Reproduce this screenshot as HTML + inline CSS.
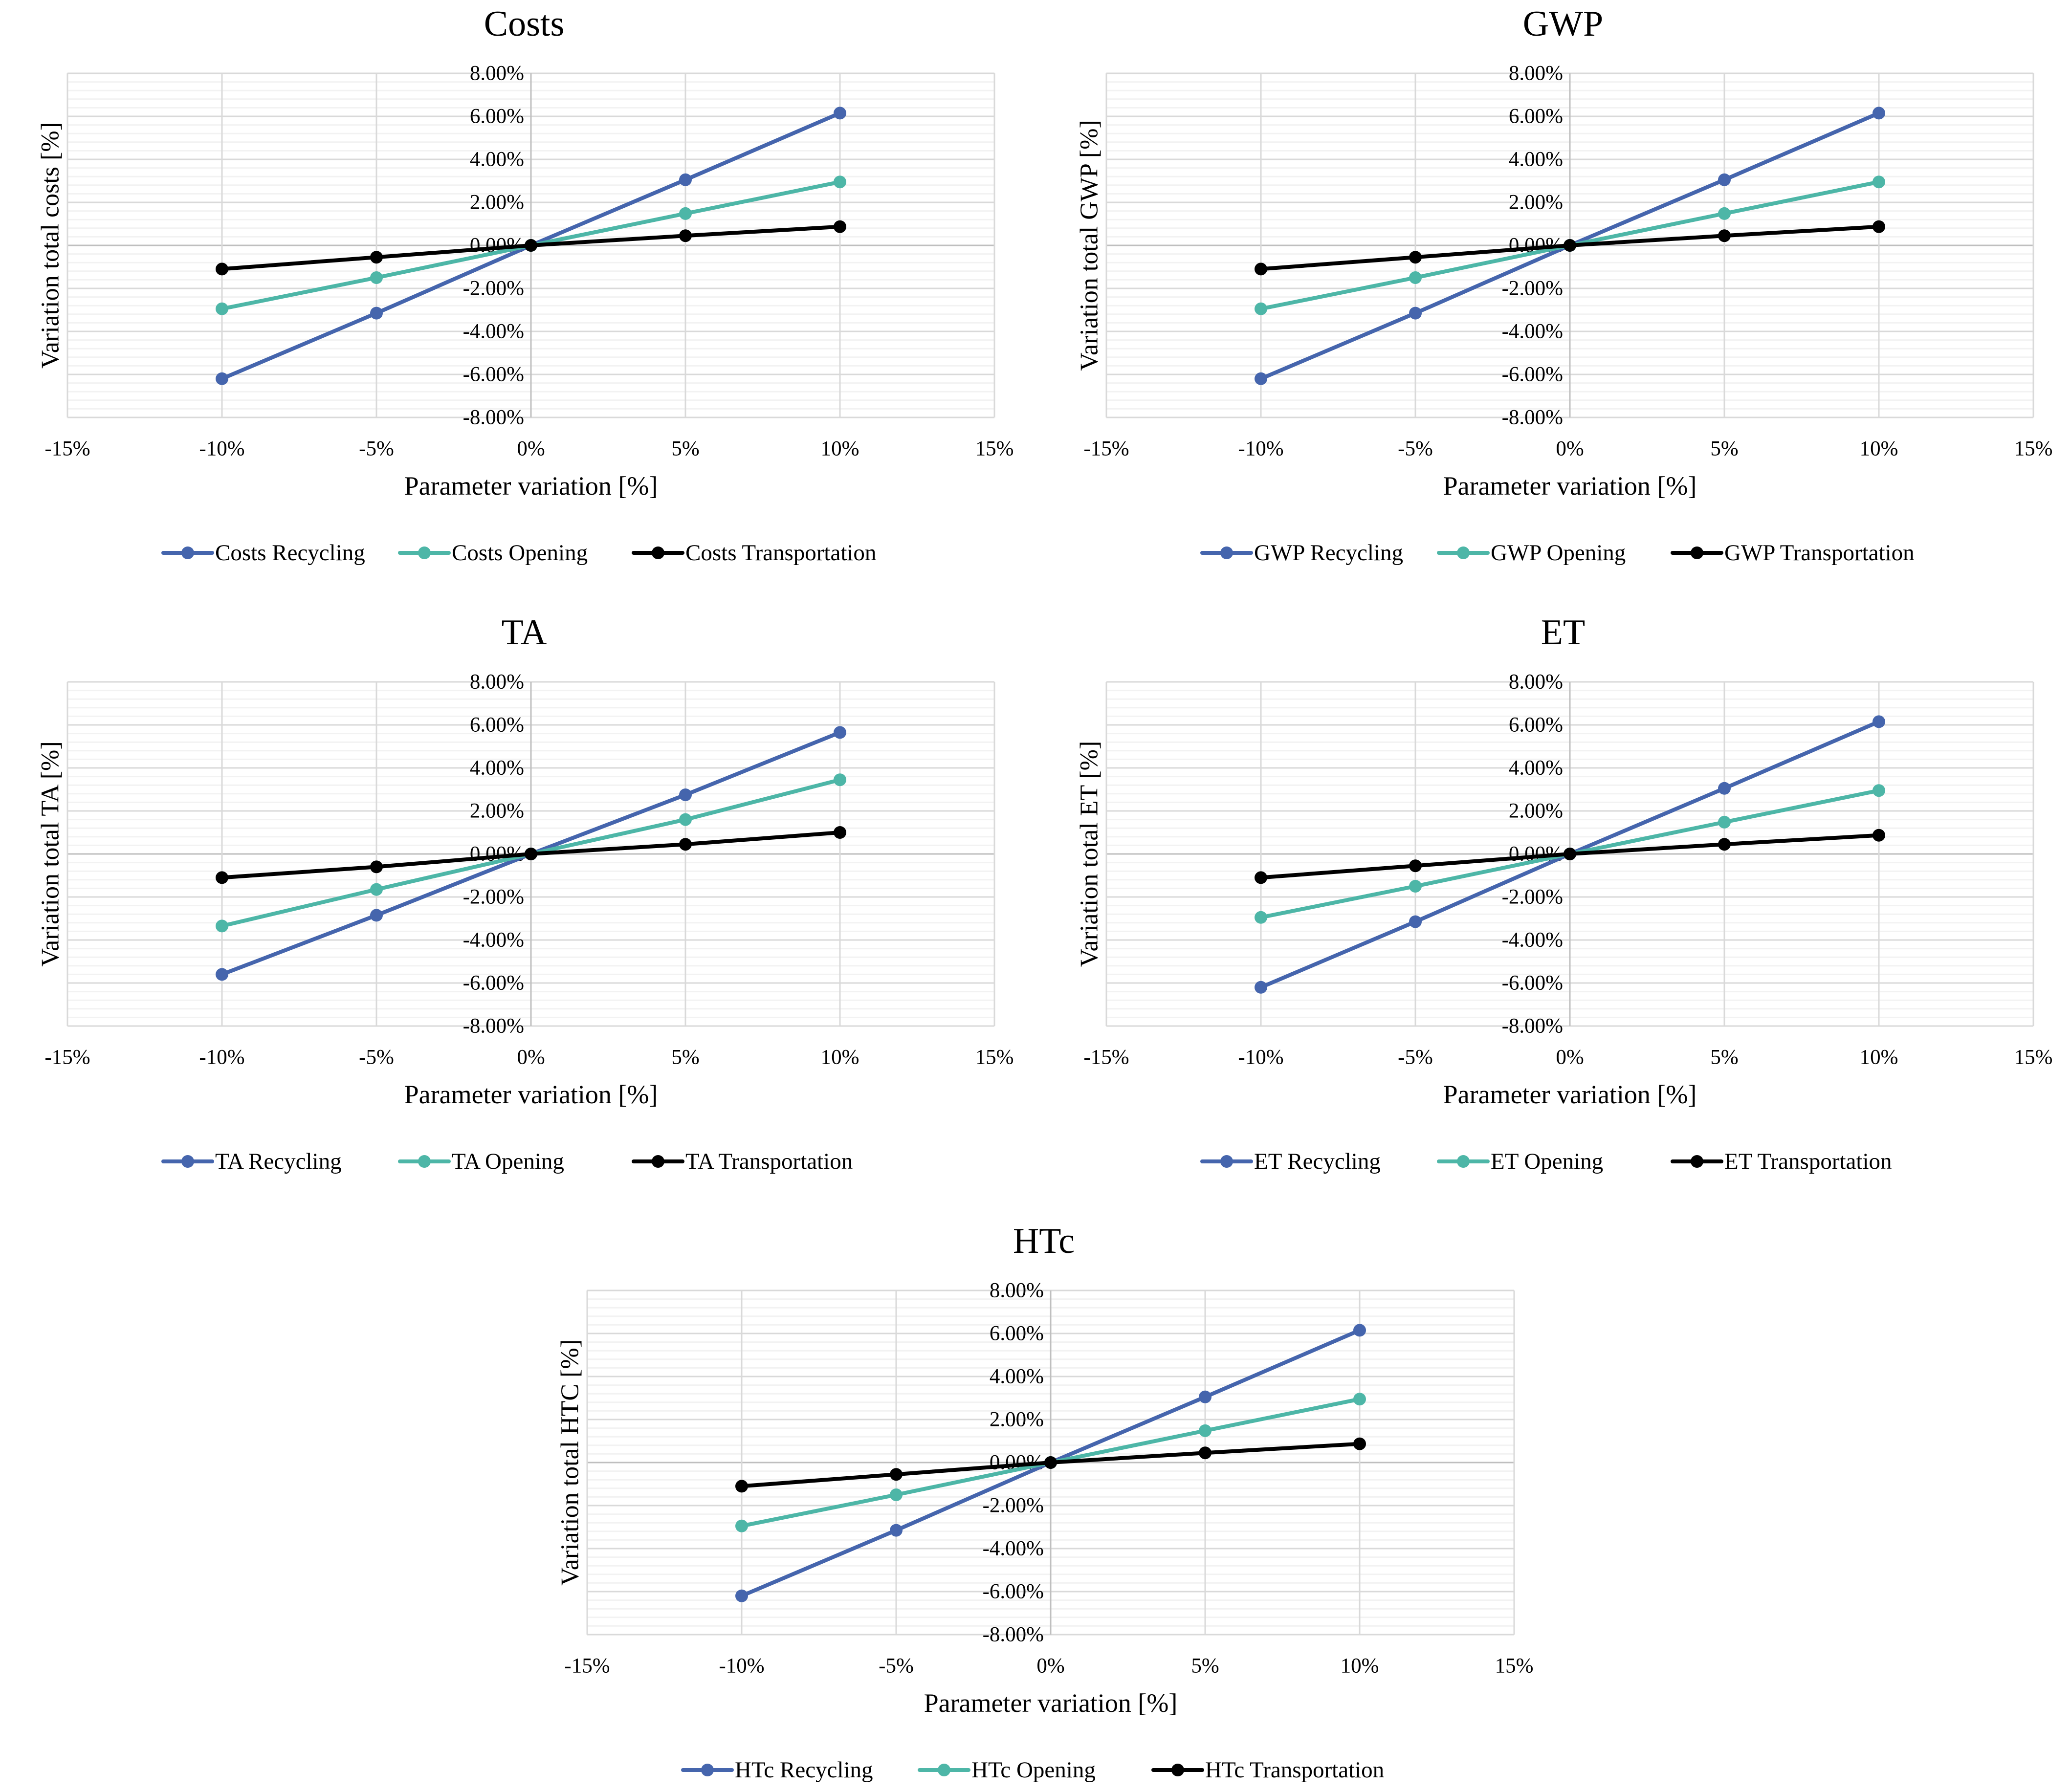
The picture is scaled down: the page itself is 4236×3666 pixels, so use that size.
<!DOCTYPE html>
<html><head><meta charset="utf-8"><style>
html,body{margin:0;padding:0;background:#fff;}
svg{display:block;font-family:"Liberation Serif",serif;}
</style></head><body>
<svg id="fig" width="4236" height="3666" viewBox="0 0 4236 3666" xmlns="http://www.w3.org/2000/svg"></svg>
<script>
const xCategories = [-10, -5, 0, 5, 10];
const xTickLabels = ["-15%","-10%","-5%","0%","5%","10%","15%"];
const xTickValues = [-15,-10,-5,0,5,10,15];
const yTickValues = [8,6,4,2,0,-2,-4,-6,-8];
const yTickLabels = ["8.00%","6.00%","4.00%","2.00%","0.00%","-2.00%","-4.00%","-6.00%","-8.00%"];
const seriesColors = ["#4565ad","#4db6a7","#000000"];
const seriesSuffix = ["Recycling","Opening","Transportation"];

const costsRecycling = [-6.2,-3.15,0,3.05,6.15];
const costsOpening = [-2.95,-1.5,0,1.48,2.95];
const costsTransport = [-1.1,-0.55,0,0.45,0.87];
const gwpRecycling = [-6.2,-3.15,0,3.05,6.15];
const gwpOpening = [-2.95,-1.5,0,1.48,2.95];
const gwpTransport = [-1.1,-0.55,0,0.45,0.87];
const taRecycling = [-5.6,-2.85,0,2.75,5.65];
const taOpening = [-3.35,-1.65,0,1.6,3.45];
const taTransport = [-1.1,-0.6,0,0.45,1.0];
const etRecycling = [-6.2,-3.15,0,3.05,6.15];
const etOpening = [-2.95,-1.5,0,1.48,2.95];
const etTransport = [-1.1,-0.55,0,0.45,0.87];
const htcRecycling = [-6.2,-3.15,0,3.05,6.15];
const htcOpening = [-2.95,-1.5,0,1.48,2.95];
const htcTransport = [-1.1,-0.55,0,0.45,0.87];

const NS = "http://www.w3.org/2000/svg";
const fig = document.getElementById('fig');
function mk(tag, attrs, parent){const e=document.createElementNS(NS,tag);for(const k in attrs)e.setAttribute(k,attrs[k]);(parent||fig).appendChild(e);return e;}

function chart(dx, dy, title, ytitle, prefix, series, key){
  const g = mk('g',{});
  
  
  const L=138+dx, R=2034+dx, T=150+dy, B=854+dy;
  const xs = v => L + (v+15)/30*(R-L);
  const ys = v => T + (8-v)/16*(B-T);
  for(let v=-8; v<=8.001; v+=0.4){
    const r=Math.round(v*10)/10;
    if(Math.abs(r%2)<0.01) continue;
    mk('line',{x1:L,x2:R,y1:ys(r),y2:ys(r),stroke:'#f2f2f2','stroke-width':3},g);
  }
  yTickValues.forEach(v=>{
    const ln=mk('line',{x1:L,x2:R,y1:ys(v),y2:ys(v),stroke:v===0?'#bfbfbf':'#d9d9d9','stroke-width':3},g);
    
    
  });
  xTickValues.forEach(v=>{
    const ln=mk('line',{x1:xs(v),x2:xs(v),y1:T,y2:B,stroke:v===0?'#bfbfbf':'#d9d9d9','stroke-width':3},g);
    
    
  });
  const t=mk('text',{x:xs(0)-14,y:49+dy,'font-size':74,'text-anchor':'middle','dominant-baseline':'central',fill:'#000'},g);
  t.textContent=title;
  
  
  yTickValues.forEach((v,i)=>{
    const tx=mk('text',{x:xs(0)-14,y:ys(v),'font-size':43,'text-anchor':'end','dominant-baseline':'central',fill:'#000'},g);
    tx.textContent=yTickLabels[i];
    
    
  });
  xTickValues.forEach((v,i)=>{
    const tx=mk('text',{x:xs(v),y:918+dy,'font-size':43,'text-anchor':'middle','dominant-baseline':'central',fill:'#000'},g);
    tx.textContent=xTickLabels[i];
    
    
  });
  const xt=mk('text',{x:xs(0),y:994+dy,'font-size':54,'text-anchor':'middle','dominant-baseline':'central',fill:'#000'},g);
  xt.textContent='Parameter variation [%]';
  
  
  const yt=mk('text',{x:0,y:0,'font-size':52,'text-anchor':'middle','dominant-baseline':'central',fill:'#000',transform:`translate(${103+dx},${(T+B)/2}) rotate(-90)`},g);
  yt.textContent=ytitle;
  
  
  series.forEach((vals,si)=>{
    const pts=xCategories.map((c,i)=>xs(c)+','+ys(vals[i])).join(' ');
    const pl=mk('polyline',{points:pts,fill:'none',stroke:seriesColors[si],'stroke-width':8,'stroke-linejoin':'round'},g);
    
    
    xCategories.forEach((c,i)=>{
      const m=mk('circle',{cx:xs(c),cy:ys(vals[i]),r:13,fill:seriesColors[si]},g);
      
      
    });
  });
  const lx=[334,818,1296], ly=1131+dy;
  series.forEach((vals,si)=>{
    const x0=lx[si]+dx;
    const lg=mk('g',{},g);
    
    
    mk('line',{x1:x0,x2:x0+100,y1:ly,y2:ly,stroke:seriesColors[si],'stroke-width':8,'stroke-linecap':'round'},lg);
    mk('circle',{cx:x0+50,cy:ly,r:13,fill:seriesColors[si]},lg);
    const tx=mk('text',{x:x0+106,y:ly,'font-size':47,'dominant-baseline':'central',fill:'#000'},lg);
    tx.textContent=prefix+' '+seriesSuffix[si];
  });
}
chart(0,0,'Costs','Variation total costs [%]','Costs',[costsRecycling,costsOpening,costsTransport],'costs');
chart(2125,0,'GWP','Variation total GWP [%]','GWP',[gwpRecycling,gwpOpening,gwpTransport],'gwp');
chart(0,1245,'TA','Variation total TA [%]','TA',[taRecycling,taOpening,taTransport],'ta');
chart(2125,1245,'ET','Variation total ET [%]','ET',[etRecycling,etOpening,etTransport],'et');
chart(1063,2490,'HTc','Variation total HTC [%]','HTc',[htcRecycling,htcOpening,htcTransport],'htc');
</script>
</body></html>
